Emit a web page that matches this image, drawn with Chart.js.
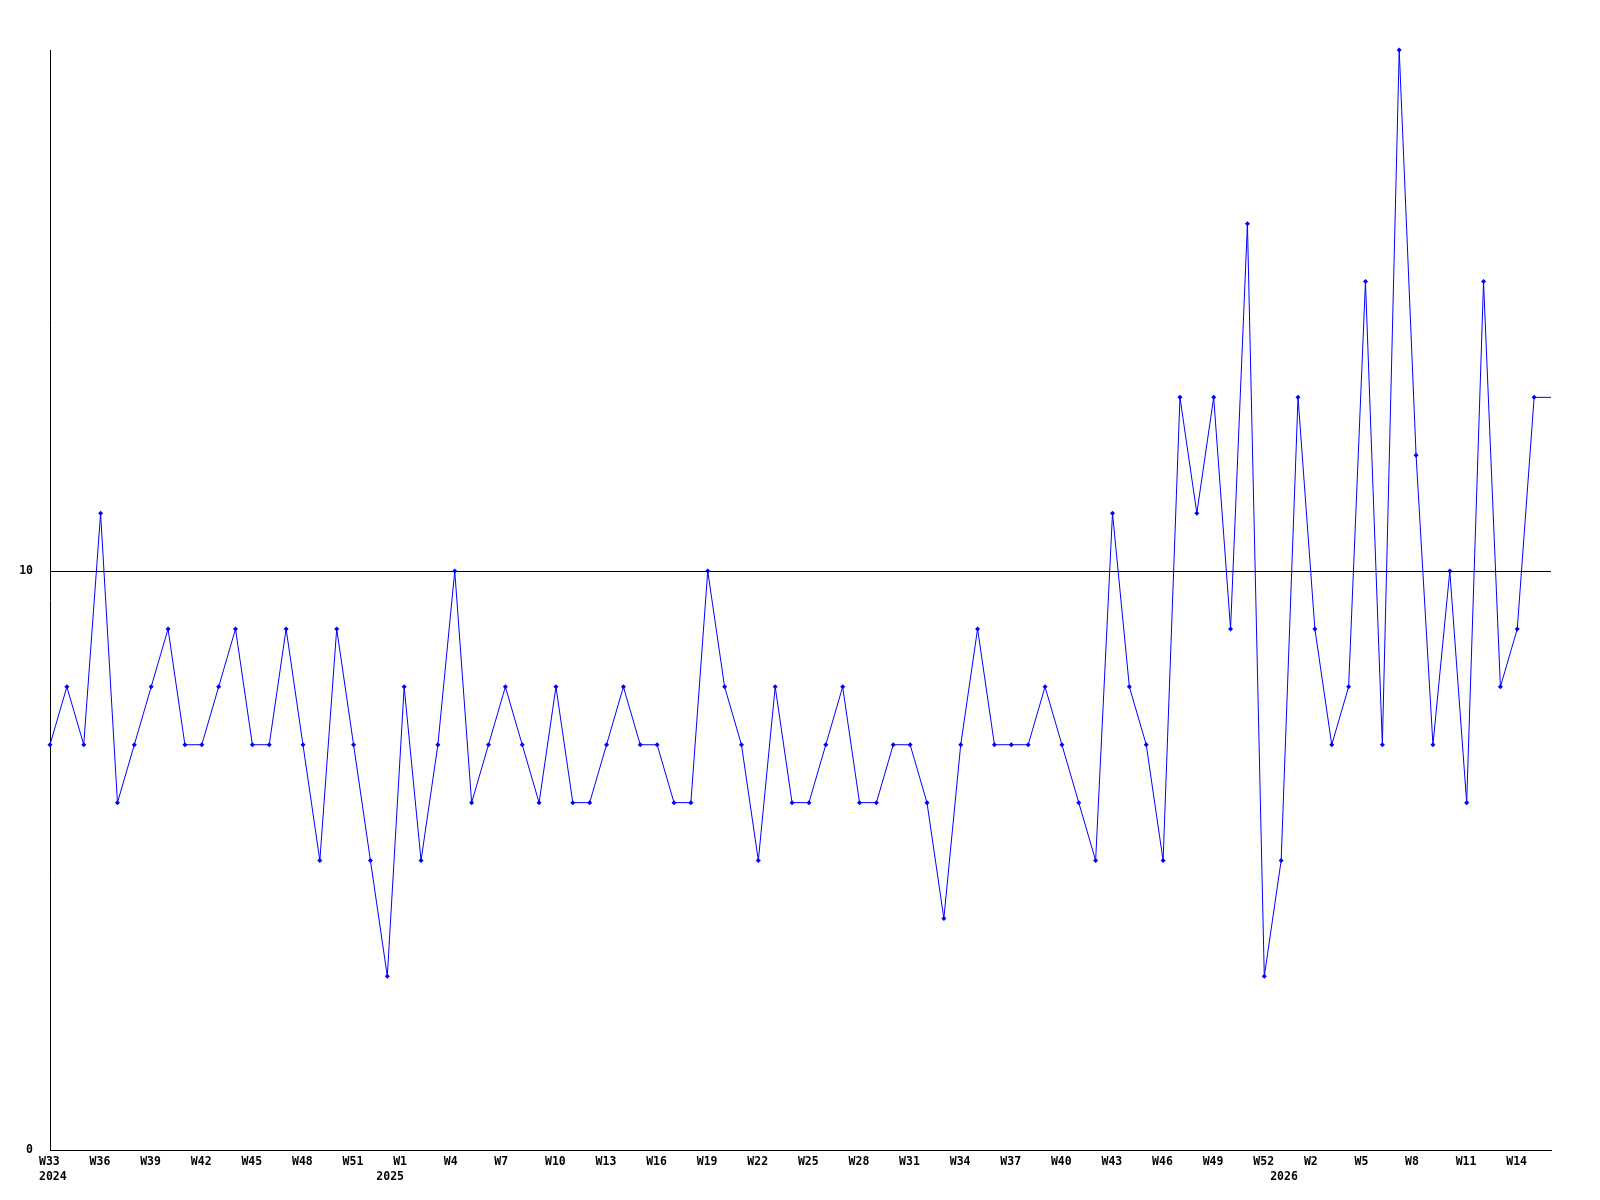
<!DOCTYPE html>
<html>
<head>
  <meta charset="UTF-8">
  <title>Weekly count</title>
  <script src="https://cdn.jsdelivr.net/npm/chart.js"></script>
  <style>
    body { margin: 0; background: #fff; }
    canvas { display: block; }
  </style>
</head>
<body>
  <canvas id="chart" width="1600" height="1200"></canvas>
  <script>
    // week categories (2024 W33 .. 2026 W16)
    const weeks = [
      'W33','W34','W35','W36','W37','W38','W39','W40','W41','W42','W43','W44','W45','W46','W47','W48','W49','W50','W51','W52',
      'W0','W1','W2','W3','W4','W5','W6','W7','W8','W9','W10','W11','W12','W13','W14','W15','W16','W17','W18','W19','W20',
      'W21','W22','W23','W24','W25','W26','W27','W28','W29','W30','W31','W32','W33','W34','W35','W36','W37','W38','W39','W40',
      'W41','W42','W43','W44','W45','W46','W47','W48','W49','W50','W51','W52',
      'W0','W1','W2','W3','W4','W5','W6','W7','W8','W9','W10','W11','W12','W13','W14','W15','W16'
    ];
    // year shown under the first week of each year
    const yearStart = ['2024', ...Array(19).fill(''), '2025', ...Array(52).fill(''), '2026', ...Array(16).fill('')];
    const counts = [
      7,8,7,11,6,7,8,9,7,7, 8,9,7,7,9,7,5,9,7,5,
      3,8,5,7,10,6,7,8,7,6, 8,6,6,7,8,7,7,6,6,10,
      8,7,5,8,6,6,7,8,6,6, 7,7,6,4,7,9,7,7,7,8,
      7,6,5,11,8,7,5,13,11,13, 9,16,3,5,13,9,7,8,15,7,
      19,12,7,10,6,15,8,9,13,13
    ];
    const yTicks = [0, 10];

    const font = { family: "'DejaVu Sans Mono', monospace", size: 11.5, weight: 'bold', lineHeight: 1.3 };

    new Chart(document.getElementById('chart'), {
      type: 'line',
      data: {
        labels: weeks,
        datasets: [{
          data: counts,
          borderColor: '#0000ff',
          backgroundColor: '#0000ff',
          borderWidth: 1,
          tension: 0,
          pointStyle: 'rectRot',
          pointRadius: counts.map((v, i) => i === counts.length - 1 ? 0 : 2.5),
          pointBorderWidth: 0,
          clip: false
        }]
      },
      options: {
        responsive: false,
        animation: false,
        layout: { padding: { top: 50, right: 49, left: 0, bottom: 0 } },
        plugins: { legend: { display: false }, tooltip: { enabled: false } },
        scales: {
          x: {
            offset: false,
            grid: { display: false, drawTicks: false },
            border: { color: '#000', width: 1 },
            afterFit: s => { s.height = 50; },
            ticks: {
              autoSkip: false, maxRotation: 0, minRotation: 0, padding: 5,
              align: 'start', labelOffset: -11,
              color: '#000', font: font,
              callback: function (v, i) {
                return [i % 3 === 0 ? weeks[i] : '', yearStart[i]];
              }
            }
          },
          y: {
            min: 0, max: 19,
            afterBuildTicks: s => { s.ticks = yTicks.map(v => ({ value: v })); },
            afterFit: s => { s.width = 50; },
            grid: { color: '#000', lineWidth: 1, drawTicks: false },
            border: { color: '#000', width: 1 },
            ticks: { padding: 17, color: '#000', font: font }
          }
        }
      }
    });
  </script>
</body>
</html>
